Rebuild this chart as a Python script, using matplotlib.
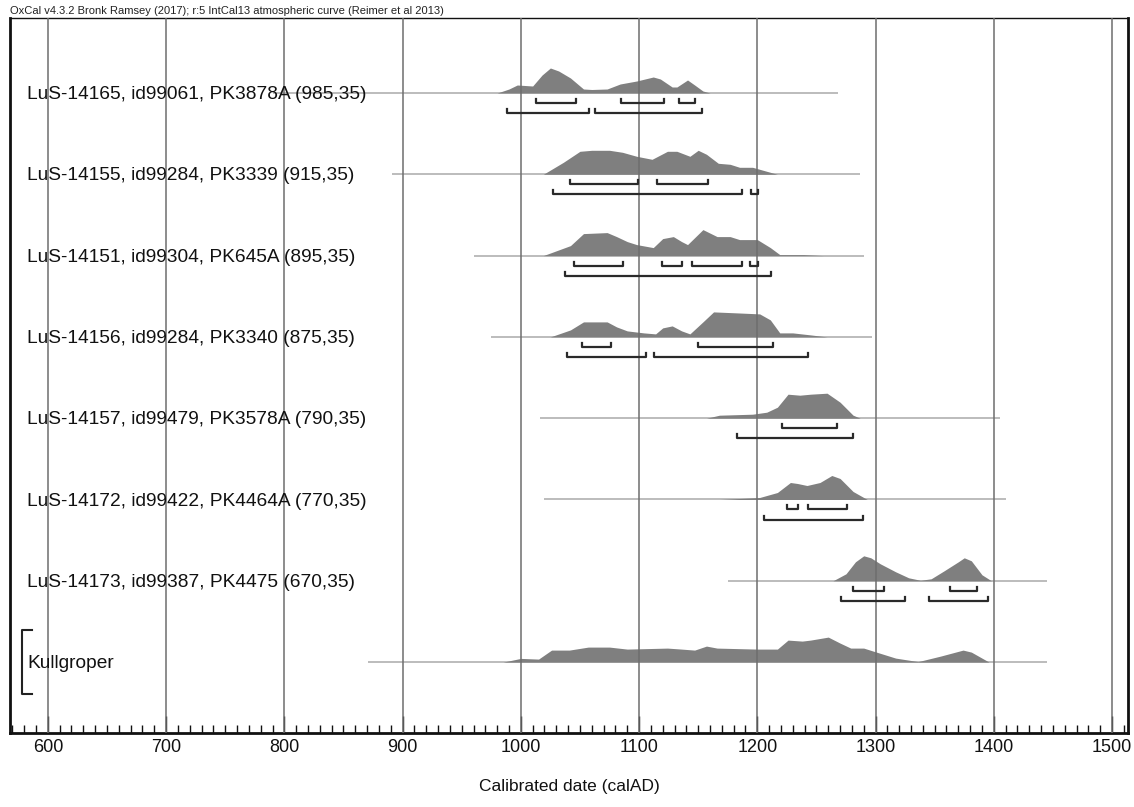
import matplotlib
matplotlib.use('Agg')
import matplotlib.pyplot as plt
from matplotlib.ticker import MultipleLocator

plt.rcParams['font.family'] = ['Liberation Sans', 'DejaVu Sans']

# ---------------- data ----------------
labels = [
    "LuS-14165, id99061, PK3878A (985,35)",
    "LuS-14155, id99284, PK3339 (915,35)",
    "LuS-14151, id99304, PK645A (895,35)",
    "LuS-14156, id99284, PK3340 (875,35)",
    "LuS-14157, id99479, PK3578A (790,35)",
    "LuS-14172, id99422, PK4464A (770,35)",
    "LuS-14173, id99387, PK4475 (670,35)",
    "Kullgroper",
]

line_start = [790, 891, 960, 975, 1016, 1020, 1175, 871]
line_end = [1268, 1287, 1290, 1297, 1405, 1410, 1445, 1445]

years_1 = [980, 990, 997, 1010, 1018, 1025, 1032, 1042, 1053, 1060, 1073, 1084, 1098, 1112, 1118, 1128, 1132, 1141, 1147, 1154, 1160]
dens_1 = [0, 4, 8, 7, 18, 25, 22, 15, 4, 3.5, 4, 9, 12, 16, 14, 6, 6, 13, 8, 2, 0]

years_2 = [1019, 1036, 1050, 1060, 1075, 1086, 1098, 1111, 1124, 1132, 1143, 1150, 1157, 1167, 1177, 1185, 1196, 1202, 1217]
dens_2 = [0, 12, 23, 24, 24, 22, 18, 15, 23, 23, 18, 24, 20, 11, 10, 7, 7, 5, 0]

years_3 = [1019, 1042, 1053, 1073, 1081, 1090, 1098, 1112, 1120, 1129, 1136, 1141, 1154, 1166, 1177, 1185, 1200, 1211, 1219, 1239, 1256]
dens_3 = [0, 10, 22, 23, 19, 14, 11, 8, 17, 19, 14, 11, 26, 19, 19, 16, 16, 8, 1, 1, 0]

years_4 = [1025, 1042, 1053, 1073, 1081, 1090, 1104, 1114, 1120, 1128, 1136, 1143, 1154, 1163, 1183, 1202, 1211, 1219, 1230, 1245, 1259]
dens_4 = [0, 7, 15, 15, 10, 6, 4, 3, 9, 11, 6, 3, 15, 25, 24, 23, 17, 4, 4, 2, 0]

years_5 = [1157, 1168, 1196, 1208, 1217, 1226, 1236, 1245, 1259, 1270, 1281, 1287]
dens_5 = [0, 3, 4, 6, 11, 24, 23, 24, 25, 16, 3, 0]

years_6 = [1168, 1202, 1217, 1228, 1234, 1242, 1253, 1263, 1270, 1281, 1293]
dens_6 = [0, 2, 7, 17, 16, 14, 17, 24, 21, 8, 0]

years_7 = [1264, 1275, 1283, 1290, 1296, 1304, 1317, 1328, 1338, 1347, 1358, 1370, 1375, 1381, 1390, 1398]
dens_7 = [0, 7, 19, 25, 23, 17, 9, 3, 0.5, 2, 10, 19, 23, 20, 6, 0]

years_8 = [985, 1000, 1015, 1026, 1041, 1057, 1075, 1090, 1124, 1136, 1147, 1157, 1166, 1200, 1217, 1226,
           1238, 1245, 1260, 1270, 1279, 1290, 1298, 1317, 1336, 1355, 1374, 1381, 1396]
dens_8 = [0, 3.7, 3, 12, 12, 15, 15, 13, 14, 13, 12, 16, 14, 13, 13, 22,
          21, 22, 25, 19, 14, 14, 11, 4, 0.5, 6, 12, 10, 0]

dist_years = [years_1, years_2, years_3, years_4, years_5, years_6, years_7, years_8]
dist_dens = [dens_1, dens_2, dens_3, dens_4, dens_5, dens_6, dens_7, dens_8]

range68 = [
    [(1013, 1047), (1085, 1121), (1134, 1147)],
    [(1042, 1099), (1115, 1158)],
    [(1045, 1086), (1119, 1136), (1145, 1187), (1194, 1201)],
    [(1052, 1076), (1150, 1213)],
    [(1221, 1267)],
    [(1225, 1234), (1243, 1276)],
    [(1281, 1307), (1363, 1386)],
]
range95 = [
    [(988, 1058), (1063, 1153)],
    [(1027, 1187), (1195, 1201)],
    [(1037, 1212)],
    [(1039, 1106), (1113, 1243)],
    [(1183, 1281)],
    [(1206, 1289)],
    [(1271, 1325), (1345, 1395)],
]

header = "OxCal v4.3.2 Bronk Ramsey (2017); r:5 IntCal13 atmospheric curve (Reimer et al 2013)"
xlabel = "Calibrated date (calAD)"
x_major = list(range(600, 1501, 100))

# ---------------- figure ----------------
W, H = 1134, 807
fig = plt.figure(figsize=(W / 100, H / 100), dpi=100)
ax = fig.add_axes([10 / W, 1 - 733 / H, 1118 / W, 715 / H])

row_px = 81.3
dens_scale = 1 / row_px
ax.set_xlim(568, 1513.5)
ax.set_ylim((733 - 93) / row_px, (18 - 93) / row_px)

for xv in x_major:
    ax.axvline(xv, color='#6e6e6e', lw=1.1, zorder=3)

for i in range(len(labels)):
    ax.plot([line_start[i], line_end[i]], [i, i], color='#b0b0b0', lw=1.2, zorder=1, solid_capstyle='butt')
    ys = [i - d * dens_scale for d in dist_dens[i]]
    ax.fill_between(dist_years[i], i, ys, color='#7f7f7f', lw=0, zorder=2)

tick = 4 / row_px
for i, rngs in enumerate(range68):
    y0 = i + 10 / row_px
    for a, b in rngs:
        ax.plot([a, a, b, b], [y0 - tick, y0, y0, y0 - tick], color='#2a2a2a', lw=1.6, zorder=4)
for i, rngs in enumerate(range95):
    y0 = i + 20 / row_px
    for a, b in rngs:
        ax.plot([a, a, b, b], [y0 - tick, y0, y0, y0 - tick], color='#2a2a2a', lw=1.6, zorder=4)

for i, lab in enumerate(labels):
    ax.text(17 / 1118, i + 1.5 / row_px, lab, transform=ax.get_yaxis_transform(), fontsize=13.8,
            va='center', ha='left', color='#111111', zorder=6)

# Kullgroper group bracket
k = len(labels) - 1
bx0 = 11.7 / 1118
bx1 = 22 / 1118
ax.plot([bx1, bx0, bx0, bx1], [k - 32 / row_px, k - 32 / row_px, k + 32 / row_px, k + 32 / row_px],
        transform=ax.get_yaxis_transform(), color='#222222', lw=1.5, zorder=6, clip_on=False)

ax.set_xticks(x_major)
ax.xaxis.set_minor_locator(MultipleLocator(10))
ax.tick_params(axis='x', which='major', direction='in', length=12, width=1, labelsize=13, pad=4.5, colors='#111111')
ax.tick_params(axis='x', which='minor', direction='in', length=6, width=1, colors='#111111')
ax.set_yticks([])

for side, lw in [('left', 2), ('right', 2), ('bottom', 2), ('top', 1)]:
    ax.spines[side].set_linewidth(lw)
    ax.spines[side].set_color('#111111')

fig.text(10 / W, 1 - 11 / H, header, fontsize=8, ha='left', va='center', color='#222222')
fig.text((10 + 559) / W, 1 - 787 / H, xlabel, fontsize=12.5, ha='center', va='center', color='#111111')

fig.savefig('out.png', dpi=100, facecolor='white')
